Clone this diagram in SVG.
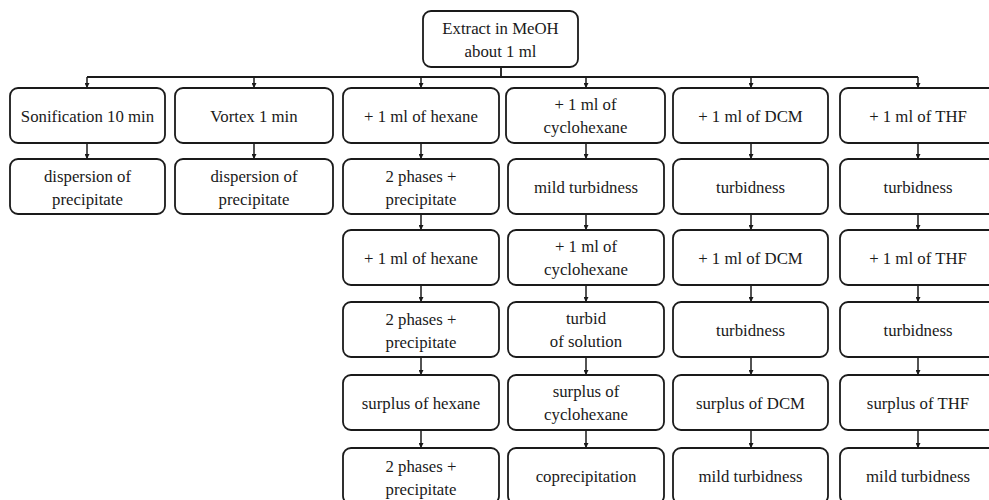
<svg xmlns="http://www.w3.org/2000/svg" width="989" height="500" viewBox="0 0 989 500">
<style>
.b{fill:#fff;stroke:#1a1a1a;stroke-width:1.8}
.t{font-family:"Liberation Serif","Times New Roman",serif;font-size:16.8px;fill:#1a1a1a;text-anchor:middle}
.c{fill:none;stroke:#1a1a1a;stroke-width:1.8}
.a{fill:none;stroke:#1a1a1a;stroke-width:1.5;marker-end:url(#ah)}
</style>
<defs>
<marker id="ah" viewBox="0 0 6 6" refX="6" refY="3" markerWidth="5" markerHeight="5" markerUnits="userSpaceOnUse" orient="auto">
<path d="M0,0 L6,3 L0,6 Z" fill="#1a1a1a"/>
</marker>
</defs>
<g id="connectors">
<path class="c" d="M501,67 V77 M87,77 H918"/>
<path class="a" d="M87,77 V88"/>
<path class="a" d="M254,77 V88"/>
<path class="a" d="M421,77 V88"/>
<path class="a" d="M586,77 V88"/>
<path class="a" d="M751,77 V88"/>
<path class="a" d="M918,77 V88"/>
<path class="a" d="M87,143 V159"/>
<path class="a" d="M254,143 V159"/>
<path class="a" d="M421,143 V159"/>
<path class="a" d="M586,143 V159"/>
<path class="a" d="M751,143 V159"/>
<path class="a" d="M918,143 V159"/>
<path class="a" d="M421,214 V230"/>
<path class="a" d="M586,214 V230"/>
<path class="a" d="M751,214 V230"/>
<path class="a" d="M918,214 V230"/>
<path class="a" d="M421,285 V302"/>
<path class="a" d="M586,285 V302"/>
<path class="a" d="M751,285 V302"/>
<path class="a" d="M918,285 V302"/>
<path class="a" d="M421,357 V375"/>
<path class="a" d="M586,357 V375"/>
<path class="a" d="M751,357 V375"/>
<path class="a" d="M918,357 V375"/>
<path class="a" d="M421,430 V448"/>
<path class="a" d="M586,430 V448"/>
<path class="a" d="M751,430 V448"/>
<path class="a" d="M918,430 V448"/>
</g>
<g id="root"><rect class="b" x="423" y="11" width="155" height="56" rx="8"/><text class="t" x="500.5" y="34">Extract in MeOH</text><text class="t" x="500.5" y="57">about 1 ml</text></g>

<g id="c1r1"><rect class="b" x="10" y="88" width="155" height="55" rx="8"/><text class="t" x="87.5" y="122">Sonification 10 min</text></g>
<g id="c1r2"><rect class="b" x="10" y="159" width="155" height="55" rx="8"/><text class="t" x="87.5" y="182">dispersion of</text><text class="t" x="87.5" y="205">precipitate</text></g>

<g id="c2r1"><rect class="b" x="175" y="88" width="158" height="55" rx="8"/><text class="t" x="254" y="122">Vortex 1 min</text></g>
<g id="c2r2"><rect class="b" x="175" y="159" width="158" height="55" rx="8"/><text class="t" x="254" y="182">dispersion of</text><text class="t" x="254" y="205">precipitate</text></g>

<g id="c3r1"><rect class="b" x="343" y="88" width="156" height="55" rx="8"/><text class="t" x="421" y="122">+ 1 ml of hexane</text></g>
<g id="c3r2"><rect class="b" x="343" y="159" width="156" height="55" rx="8"/><text class="t" x="421" y="182">2 phases +</text><text class="t" x="421" y="205">precipitate</text></g>
<g id="c3r3"><rect class="b" x="343" y="230" width="156" height="55" rx="8"/><text class="t" x="421" y="264">+ 1 ml of hexane</text></g>
<g id="c3r4"><rect class="b" x="343" y="302" width="156" height="55" rx="8"/><text class="t" x="421" y="325">2 phases +</text><text class="t" x="421" y="348">precipitate</text></g>
<g id="c3r5"><rect class="b" x="343" y="375" width="156" height="55" rx="8"/><text class="t" x="421" y="409">surplus of hexane</text></g>
<g id="c3r6"><rect class="b" x="343" y="448" width="156" height="56" rx="8"/><text class="t" x="421" y="472">2 phases +</text><text class="t" x="421" y="495">precipitate</text></g>

<g id="c4r1"><rect class="b" x="506" y="88" width="159" height="55" rx="8"/><text class="t" x="585.5" y="110">+ 1 ml of</text><text class="t" x="585.5" y="133">cyclohexane</text></g>
<g id="c4r2"><rect class="b" x="508" y="159" width="156" height="55" rx="8"/><text class="t" x="586" y="193">mild turbidness</text></g>
<g id="c4r3"><rect class="b" x="508" y="230" width="156" height="55" rx="8"/><text class="t" x="586" y="252">+ 1 ml of</text><text class="t" x="586" y="275">cyclohexane</text></g>
<g id="c4r4"><rect class="b" x="508" y="302" width="156" height="55" rx="8"/><text class="t" x="586" y="324">turbid</text><text class="t" x="586" y="347">of solution</text></g>
<g id="c4r5"><rect class="b" x="508" y="375" width="156" height="55" rx="8"/><text class="t" x="586" y="397">surplus of</text><text class="t" x="586" y="420">cyclohexane</text></g>
<g id="c4r6"><rect class="b" x="508" y="448" width="156" height="56" rx="8"/><text class="t" x="586" y="482">coprecipitation</text></g>

<g id="c5r1"><rect class="b" x="673" y="88" width="155" height="55" rx="8"/><text class="t" x="750.5" y="122">+ 1 ml of DCM</text></g>
<g id="c5r2"><rect class="b" x="673" y="159" width="155" height="55" rx="8"/><text class="t" x="750.5" y="193">turbidness</text></g>
<g id="c5r3"><rect class="b" x="673" y="230" width="155" height="55" rx="8"/><text class="t" x="750.5" y="264">+ 1 ml of DCM</text></g>
<g id="c5r4"><rect class="b" x="673" y="302" width="155" height="55" rx="8"/><text class="t" x="750.5" y="336">turbidness</text></g>
<g id="c5r5"><rect class="b" x="673" y="375" width="155" height="55" rx="8"/><text class="t" x="750.5" y="409">surplus of DCM</text></g>
<g id="c5r6"><rect class="b" x="673" y="448" width="155" height="56" rx="8"/><text class="t" x="750.5" y="482">mild turbidness</text></g>

<g id="c6r1"><rect class="b" x="840" y="88" width="160" height="55" rx="8"/><text class="t" x="918" y="122">+ 1 ml of THF</text></g>
<g id="c6r2"><rect class="b" x="840" y="159" width="160" height="55" rx="8"/><text class="t" x="918" y="193">turbidness</text></g>
<g id="c6r3"><rect class="b" x="840" y="230" width="160" height="55" rx="8"/><text class="t" x="918" y="264">+ 1 ml of THF</text></g>
<g id="c6r4"><rect class="b" x="840" y="302" width="160" height="55" rx="8"/><text class="t" x="918" y="336">turbidness</text></g>
<g id="c6r5"><rect class="b" x="840" y="375" width="160" height="55" rx="8"/><text class="t" x="918" y="409">surplus of THF</text></g>
<g id="c6r6"><rect class="b" x="840" y="448" width="160" height="56" rx="8"/><text class="t" x="918" y="482">mild turbidness</text></g>
</svg>
